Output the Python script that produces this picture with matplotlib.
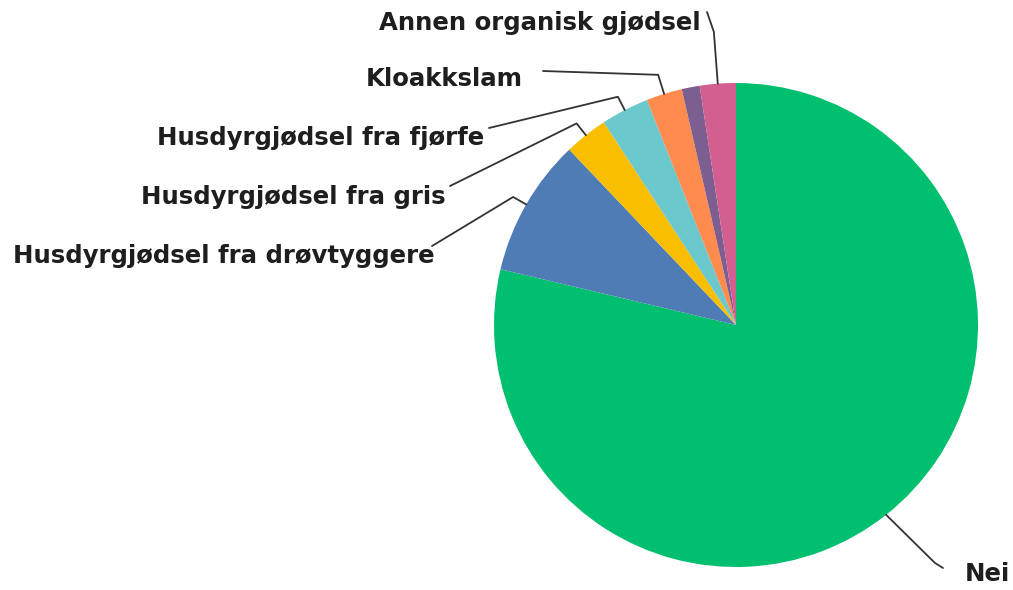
import numpy as np
import matplotlib
matplotlib.use("Agg")
import matplotlib.pyplot as plt

# Data (percent), clockwise from 12 o'clock
categories = ["Nei", "Husdyrgjødsel fra drøvtyggere", "Husdyrgjødsel fra gris",
              "Husdyrgjødsel fra fjørfe", "Kloakkslam", "", "Annen organisk gjødsel"]
values = [78.7, 9.2, 2.9, 3.2, 2.4, 1.2, 2.4]
colors = ["#00BF6F", "#507CB6", "#F9BE00", "#6BC8CD", "#FF8B4F", "#7D5E90", "#D25F90"]

W, H = 1013, 590
fig = plt.figure(figsize=(W / 100, H / 100), dpi=100)
ax = fig.add_axes([0, 0, 1, 1])

# pixel-like coordinates with y measured upward
def Y(y_from_top):
    return H - y_from_top

cx, cy, R = 736, Y(325), 242
wedges, _ = ax.pie(values, colors=colors, startangle=90, counterclock=False,
                   center=(cx, cy), radius=R, frame=True,
                   wedgeprops=dict(linewidth=0))
ax.set_xlim(0, W)
ax.set_ylim(0, H)
ax.set_aspect("equal")
ax.axis("off")

# layout for labels (positions measured from the top of the picture; ty = baseline)
layout = {
    "Annen organisk gjødsel": dict(tx=701, ty=30, ha="right", ls=(707, 12), el=52),
    "Kloakkslam": dict(tx=366, ty=86, ha="left", ls=(543, 71), el=20),
    "Husdyrgjødsel fra fjørfe": dict(tx=484, ty=145, ha="right", ls=(489, 128), el=15),
    "Husdyrgjødsel fra gris": dict(tx=446, ty=204, ha="right", ls=(450, 186), el=15),
    "Husdyrgjødsel fra drøvtyggere": dict(tx=435, ty=263, ha="right", ls=(432, 246), el=15),
    "Nei": dict(tx=965, ty=581, ha="left", ls=(943, 568), el=None),
}

font = dict(family=["DejaVu Sans"], weight="bold", size=17.6, color="#1e1e1e")

for w, lab in zip(wedges, categories):
    if not lab:
        continue
    L = layout[lab]
    mid = np.deg2rad((w.theta1 + w.theta2) / 2)
    ux, uy = np.cos(mid), np.sin(mid)
    px, py = cx + R * ux, cy + R * uy
    if L["el"] is not None:
        ex, ey = cx + (R + L["el"]) * ux, cy + (R + L["el"]) * uy
        xs = [px, ex, L["ls"][0]]
        ys = [py, ey, Y(L["ls"][1])]
    else:
        xs = [px, 935, L["ls"][0]]
        ys = [py, Y(563), Y(L["ls"][1])]
    ax.plot(xs, ys, color="#333333", lw=1.3, solid_joinstyle="round",
            solid_capstyle="round", clip_on=False)
    ax.text(L["tx"], Y(L["ty"]), lab, ha=L["ha"], va="baseline", **font)

fig.savefig("out.png", dpi=100)
